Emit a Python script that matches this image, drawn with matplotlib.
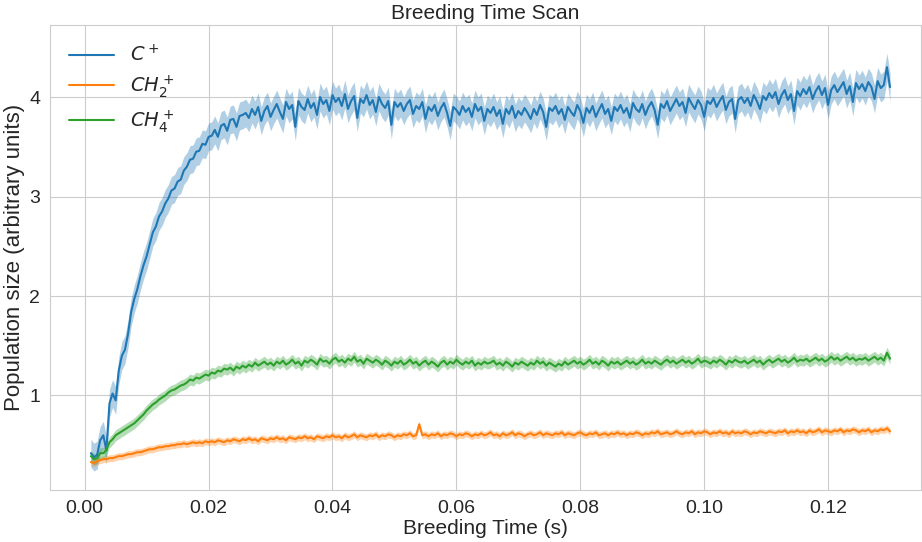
import numpy as np
import matplotlib
matplotlib.use("Agg")
import matplotlib.pyplot as plt
import seaborn as sns

# breeding time grid (s)
t_start, t_stop, t_step = 0.001, 0.130, 0.0005
breed_time = np.round(np.arange(t_start, t_stop + t_step / 2, t_step), 4)

# C+ mean population
c_plus = [
    0.42, 0.38, 0.40, 0.55, 0.60, 0.45, 0.92, 1.02, 0.95, 1.25,
    1.40, 1.46, 1.62, 1.84, 1.97, 2.07, 2.20, 2.31, 2.40, 2.52,
    2.64, 2.70, 2.80, 2.85, 2.93, 2.98, 3.06, 3.08, 3.15, 3.17,
    3.26, 3.30, 3.37, 3.38, 3.45, 3.46, 3.53, 3.52, 3.60, 3.61,
    3.67, 3.60, 3.71, 3.73, 3.66, 3.77, 3.78, 3.70, 3.81, 3.82,
    3.84, 3.79, 3.88, 3.82, 3.90, 3.76, 3.86, 3.91, 3.80, 3.87,
    3.93, 3.85, 3.78, 3.95, 3.88, 3.92, 3.70, 3.96, 3.90, 3.87,
    3.98, 3.89, 3.94, 3.82, 4.00, 3.93, 3.97, 3.86, 4.02, 3.95,
    3.99, 3.91, 4.03, 3.88, 3.96, 4.01, 3.79, 3.98, 3.94, 4.02,
    3.92, 3.97, 3.85, 4.00, 3.93, 3.89, 3.96, 3.72, 3.95, 3.90,
    3.94, 3.86, 3.93, 3.97, 3.83, 3.91, 3.88, 3.95, 3.78, 3.90,
    3.86, 3.92, 3.81, 3.89, 3.94, 3.84, 3.71, 3.90, 3.87, 3.82,
    3.91, 3.85, 3.89, 3.80, 3.93, 3.86, 3.90, 3.76, 3.88, 3.84,
    3.90, 3.81, 3.87, 3.73, 3.88, 3.83, 3.91, 3.79, 3.86, 3.82,
    3.89, 3.84, 3.78, 3.88, 3.82, 3.92, 3.85, 3.70, 3.89, 3.86,
    3.91, 3.83, 3.88, 3.77, 3.90, 3.85, 3.81, 3.92, 3.86, 3.74,
    3.89, 3.84, 3.91, 3.80, 3.87, 3.93, 3.83, 3.88, 3.76, 3.90,
    3.86, 3.92, 3.84, 3.89, 3.79, 3.94, 3.88, 3.85, 3.93, 3.82,
    3.90, 3.95, 3.87, 3.72, 3.93, 3.89, 3.96, 3.86, 3.92, 3.98,
    3.91, 3.95, 3.84, 3.99, 3.93, 3.88, 3.97, 3.92, 3.80, 3.96,
    3.93, 3.99, 3.90, 3.96, 4.01, 3.87, 3.95, 3.98, 3.78, 3.97,
    4.00, 3.94, 3.99, 3.91, 4.02, 3.96, 3.88, 4.01, 3.97, 4.04,
    3.99, 4.05, 3.93, 4.02, 4.07, 3.97, 4.03, 3.86, 4.06, 4.01,
    4.08, 4.03, 4.10, 3.98, 4.06, 4.11, 4.02, 4.09, 3.92, 4.07,
    4.12, 4.05, 4.10, 4.15, 4.03, 4.11, 3.95, 4.14, 4.08, 4.13,
    4.06, 4.15, 4.10, 3.98, 4.16, 4.09, 4.12, 4.30, 4.10,
]

# CH2+ mean population
ch2_plus = [
    0.33, 0.32, 0.34, 0.35, 0.36, 0.36, 0.37, 0.37, 0.38, 0.39,
    0.39, 0.40, 0.41, 0.41, 0.42, 0.43, 0.43, 0.44, 0.45, 0.46,
    0.46, 0.47, 0.48, 0.48, 0.49, 0.49, 0.50, 0.50, 0.51, 0.51,
    0.52, 0.51, 0.52, 0.53, 0.52, 0.53, 0.52, 0.54, 0.53, 0.54,
    0.53, 0.55, 0.54, 0.53, 0.55, 0.54, 0.56, 0.55, 0.54, 0.56,
    0.55, 0.57, 0.55, 0.56, 0.54, 0.57, 0.56, 0.55, 0.57, 0.56,
    0.58, 0.56, 0.57, 0.55, 0.58, 0.57, 0.56, 0.58, 0.57, 0.59,
    0.57, 0.58, 0.56, 0.59, 0.58, 0.57, 0.59, 0.58, 0.60, 0.58,
    0.59, 0.57, 0.60, 0.58, 0.59, 0.61, 0.58, 0.60, 0.59, 0.58,
    0.60, 0.59, 0.61, 0.58, 0.60, 0.59, 0.61, 0.60, 0.58, 0.60,
    0.59, 0.61, 0.60, 0.62, 0.59, 0.60, 0.71, 0.60, 0.61, 0.59,
    0.61, 0.60, 0.62, 0.59, 0.61, 0.60, 0.62, 0.61, 0.59, 0.61,
    0.60, 0.62, 0.61, 0.59, 0.61, 0.60, 0.62, 0.60, 0.61, 0.63,
    0.60, 0.61, 0.59, 0.62, 0.60, 0.61, 0.63, 0.60, 0.62, 0.61,
    0.59, 0.61, 0.62, 0.60, 0.61, 0.63, 0.60, 0.62, 0.61, 0.60,
    0.62, 0.61, 0.63, 0.60, 0.62, 0.61, 0.60, 0.62, 0.63, 0.61,
    0.60, 0.62, 0.61, 0.63, 0.60, 0.61, 0.62, 0.60, 0.62, 0.61,
    0.63, 0.61, 0.62, 0.60, 0.62, 0.61, 0.63, 0.62, 0.60, 0.62,
    0.61, 0.63, 0.62, 0.64, 0.61, 0.62, 0.63, 0.61, 0.62, 0.64,
    0.62, 0.61, 0.63, 0.62, 0.64, 0.61, 0.63, 0.62, 0.64, 0.63,
    0.61, 0.63, 0.62, 0.64, 0.62, 0.63, 0.61, 0.64, 0.62, 0.63,
    0.62, 0.64, 0.63, 0.61, 0.63, 0.62, 0.64, 0.63, 0.62, 0.64,
    0.63, 0.62, 0.64, 0.63, 0.65, 0.62, 0.64, 0.63, 0.65, 0.63,
    0.64, 0.62, 0.65, 0.63, 0.64, 0.66, 0.63, 0.65, 0.64, 0.63,
    0.65, 0.64, 0.66, 0.63, 0.65, 0.64, 0.66, 0.65, 0.63, 0.65,
    0.64, 0.66, 0.63, 0.65, 0.64, 0.66, 0.65, 0.67, 0.64,
]

# CH4+ mean population
ch4_plus = [
    0.39, 0.36, 0.37, 0.42, 0.42, 0.45, 0.53, 0.56, 0.60, 0.62,
    0.64, 0.66, 0.68, 0.70, 0.72, 0.75, 0.78, 0.81, 0.85, 0.88,
    0.91, 0.93, 0.96, 0.98, 1.00, 1.03, 1.05, 1.06, 1.08, 1.10,
    1.11, 1.13, 1.16, 1.15, 1.18, 1.17, 1.19, 1.21, 1.20, 1.23,
    1.22, 1.25, 1.24, 1.27, 1.26, 1.28, 1.25, 1.29, 1.27, 1.30,
    1.28, 1.31, 1.29, 1.33, 1.30, 1.32, 1.34, 1.31, 1.33, 1.30,
    1.34, 1.32, 1.35, 1.31, 1.33, 1.36, 1.32, 1.34, 1.30, 1.35,
    1.33, 1.36, 1.34, 1.31, 1.37, 1.34, 1.35, 1.32, 1.36, 1.38,
    1.34, 1.36, 1.33, 1.37, 1.35, 1.39, 1.34, 1.36, 1.32, 1.37,
    1.35, 1.33, 1.36, 1.34, 1.31, 1.35, 1.33, 1.30, 1.34, 1.32,
    1.35, 1.31, 1.33, 1.36, 1.32, 1.34, 1.30, 1.33, 1.35, 1.31,
    1.34, 1.32, 1.29, 1.33, 1.35, 1.31, 1.34, 1.32, 1.36, 1.33,
    1.31, 1.34, 1.32, 1.35, 1.30, 1.33, 1.31, 1.34, 1.32, 1.33,
    1.35, 1.31, 1.33, 1.30, 1.34, 1.32, 1.29, 1.33, 1.31, 1.34,
    1.32, 1.30, 1.33, 1.31, 1.35, 1.32, 1.34, 1.30, 1.33, 1.31,
    1.29, 1.32, 1.30, 1.34, 1.31, 1.33, 1.35, 1.32, 1.34, 1.31,
    1.33, 1.36, 1.32, 1.34, 1.31, 1.35, 1.33, 1.30, 1.34, 1.32,
    1.34, 1.31, 1.33, 1.35, 1.32, 1.34, 1.31, 1.33, 1.36, 1.32,
    1.34, 1.32, 1.35, 1.33, 1.31, 1.34, 1.36, 1.33, 1.35, 1.32,
    1.34, 1.36, 1.33, 1.35, 1.32, 1.34, 1.37, 1.33, 1.35, 1.34,
    1.32, 1.35, 1.33, 1.36, 1.34, 1.31, 1.35, 1.33, 1.36, 1.34,
    1.33, 1.35, 1.32, 1.34, 1.36, 1.33, 1.35, 1.31, 1.34, 1.36,
    1.33, 1.35, 1.37, 1.34, 1.36, 1.33, 1.35, 1.38, 1.34, 1.36,
    1.35, 1.37, 1.34, 1.36, 1.38, 1.35, 1.37, 1.34, 1.36, 1.39,
    1.36, 1.38, 1.35, 1.37, 1.39, 1.36, 1.38, 1.35, 1.37, 1.36,
    1.38, 1.35, 1.37, 1.39, 1.36, 1.38, 1.35, 1.43, 1.37,
]

# half width of the shaded spread for each species
spread = {"c": 0.14, "ch2": 0.035, "ch4": 0.055}

labels = [r"$C^+$", r"$CH_2^+$", r"$CH_4^+$"]

sns.set_style("whitegrid")
plt.rcParams["font.family"] = ["Liberation Sans", "DejaVu Sans"]

fig = plt.figure(figsize=(9.22, 5.42), dpi=100)
ax = fig.add_axes([50 / 922, 1 - 490 / 542, 871 / 922, (490 - 24.7) / 542])

series = [(c_plus, spread["c"], "#1f77b4"),
          (ch2_plus, spread["ch2"], "#ff7f0e"),
          (ch4_plus, spread["ch4"], "#2ca02c")]

for (vals, w, col), lab in zip(series, labels):
    vals = np.array(vals)
    ax.fill_between(breed_time, vals - w, vals + w, color=col, alpha=0.35, linewidth=0)
    ax.plot(breed_time, vals, color=col, linewidth=1.5, label=lab)

ax.set_xlim(-0.0056, 0.135)
ax.set_ylim(0.05, 4.727)
ax.set_yticks([1, 2, 3, 4])
ax.set_xticks([0.0, 0.02, 0.04, 0.06, 0.08, 0.10, 0.12])
ax.tick_params(labelsize=14)
ax.set_title("Breeding Time Scan", fontsize=15, pad=4)
ax.set_xlabel("Breeding Time (s)", fontsize=15, labelpad=2)
ax.set_ylabel("Population size (arbitrary units)", fontsize=16, labelpad=3)
ax.legend(loc="upper left", frameon=False, fontsize=14, handlelength=2.3,
          labelspacing=0.4, borderaxespad=0.6)

fig.savefig("out.png", dpi=100)
